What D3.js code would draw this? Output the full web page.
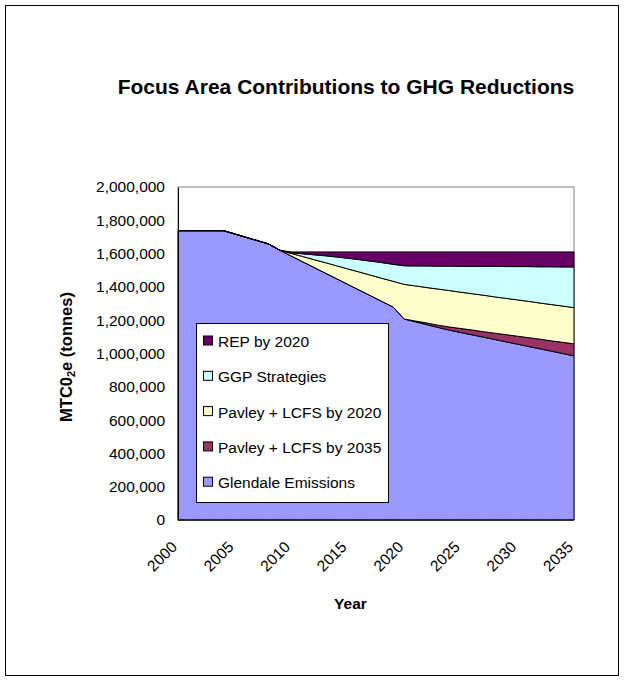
<!DOCTYPE html>
<html>
<head>
<meta charset="utf-8">
<script src="https://cdn.jsdelivr.net/npm/d3@7"></script>
<style>
  body { margin: 0; background: #fff; }
  svg text { font-family: "Liberation Sans", Arial, sans-serif; fill: #000; }
</style>
</head>
<body>
<div id="chart"></div>
<script>
// years on the category axis
var years = [2000, 2001, 2002, 2003, 2004, 2005, 2006, 2007, 2008, 2009,
             2010, 2011, 2012, 2013, 2014, 2015, 2016, 2017, 2018, 2019,
             2020, 2021, 2022, 2023, 2024, 2025, 2026, 2027, 2028, 2029,
             2030, 2031, 2032, 2033, 2034, 2035];

// series values (tonnes)
var glendale = [1738000, 1738000, 1738000, 1738000, 1738000, 1718000, 1698000, 1678000, 1658000, 1620000,
                1586000, 1552000, 1518000, 1484000, 1450000, 1416000, 1382000, 1348000, 1314000, 1280000,
                1207000, 1190000, 1173000, 1156000, 1140000, 1126000, 1112000, 1098000, 1084000, 1070000,
                1056000, 1042000, 1028000, 1014000, 1000000, 986000];
var pavley2035 = [0, 0, 0, 0, 0, 0, 0, 0, 0, 0,
                  0, 0, 0, 0, 0, 0, 0, 0, 0, 0,
                  0, 5000, 10000, 14000, 19000, 24000, 29000, 33000, 38000, 43000,
                  48000, 53000, 58000, 62000, 67000, 72000];
var pavley2020 = [0, 0, 0, 0, 0, 0, 0, 0, 0, 0,
                  15000, 31000, 46000, 62000, 77000, 92000, 108000, 123000, 138000, 154000,
                  208000, 211000, 213000, 217000, 219000, 218000, 218000, 219000, 218000, 218000,
                  218000, 218000, 217000, 218000, 218000, 217000];
var ggp = [0, 0, 0, 0, 0, 0, 0, 0, 0, 0,
           4000, 16000, 29000, 41000, 53000, 64000, 74000, 84000, 94000, 102000,
           112000, 120000, 130000, 138000, 147000, 156000, 165000, 173000, 183000, 191000,
           200000, 209000, 218000, 227000, 235000, 245000];
var rep = [0, 0, 0, 0, 0, 0, 0, 0, 0, 0,
           5000, 11000, 17000, 23000, 30000, 38000, 46000, 55000, 64000, 74000,
           83000, 84000, 84000, 85000, 85000, 86000, 86000, 87000, 87000, 88000,
           88000, 88000, 89000, 89000, 90000, 90000];

// stacking order, bottom first
var keys = ["glendale", "pavley2035", "pavley2020", "ggp", "rep"];
var seriesNames = {
    glendale: "Glendale Emissions",
    pavley2035: "Pavley + LCFS by 2035",
    pavley2020: "Pavley + LCFS by 2020",
    ggp: "GGP Strategies",
    rep: "REP by 2020"
};
var seriesColors = {
    glendale: "#9999ff",
    pavley2035: "#993366",
    pavley2020: "#ffffcc",
    ggp: "#ccffff",
    rep: "#660066"
};

var yTicks = [0, 200000, 400000, 600000, 800000, 1000000, 1200000, 1400000, 1600000, 1800000, 2000000];
var xTicks = [2000, 2005, 2010, 2015, 2020, 2025, 2030, 2035];

var W = 624, H = 681;
var plot = {left: 178, right: 574, top: 187, bottom: 520};

var data = years.map(function(yr, i) {
    return {year: yr, glendale: glendale[i], pavley2035: pavley2035[i],
            pavley2020: pavley2020[i], ggp: ggp[i], rep: rep[i]};
});

var svg = d3.select("#chart").append("svg")
    .attr("width", W)
    .attr("height", H);

// outer chart border
svg.append("rect")
    .attr("x", 5.5).attr("y", 5.5)
    .attr("width", 613).attr("height", 670)
    .attr("fill", "#fff")
    .attr("stroke", "#000")
    .attr("stroke-width", 1);

var x = d3.scaleLinear()
    .domain([years[0], years[years.length - 1]])
    .range([plot.left, plot.right]);

var y = d3.scaleLinear()
    .domain([0, 2000000])
    .range([plot.bottom, plot.top]);

// title
svg.append("text")
    .attr("x", 346)
    .attr("y", 94)
    .attr("text-anchor", "middle")
    .style("font-size", "21px")
    .style("font-weight", "bold")
    .text("Focus Area Contributions to GHG Reductions");

// plot area frame
svg.append("rect")
    .attr("x", plot.left).attr("y", plot.top)
    .attr("width", plot.right - plot.left)
    .attr("height", plot.bottom - plot.top)
    .attr("fill", "#fff")
    .attr("stroke", "#808080")
    .attr("stroke-width", 1);

var stackedData = d3.stack().keys(keys)(data);

var area = d3.area()
    .x(function(d) { return x(d.data.year); })
    .y0(function(d) { return y(d[0]); })
    .y1(function(d) { return y(d[1]); });

svg.append("g")
    .selectAll("path")
    .data(stackedData)
    .enter()
    .append("path")
    .attr("d", area)
    .attr("fill", function(d) { return seriesColors[d.key]; })
    .attr("stroke", "#000")
    .attr("stroke-width", 1)
    .attr("stroke-linejoin", "round");

// y axis
var yAxis = svg.append("g")
    .attr("transform", "translate(" + plot.left + ",0)")
    .call(d3.axisLeft(y).tickValues(yTicks).tickSize(0).tickPadding(13)
        .tickFormat(d3.format(",")));
yAxis.select(".domain").attr("stroke", "#000");
yAxis.selectAll("text")
    .style("font-size", "15.5px")
    .style("font-family", "'Liberation Sans', Arial, sans-serif");

// x axis
svg.append("line")
    .attr("x1", plot.left).attr("x2", plot.right)
    .attr("y1", plot.bottom).attr("y2", plot.bottom)
    .attr("stroke", "#000");

svg.append("g")
    .selectAll("text")
    .data(xTicks)
    .enter()
    .append("text")
    .attr("transform", function(d) { return "translate(" + x(d) + ",548) rotate(-45)"; })
    .attr("text-anchor", "end")
    .style("font-size", "15.5px")
    .text(function(d) { return d; });

// axis titles
svg.append("text")
    .attr("x", 350.5)
    .attr("y", 609)
    .attr("text-anchor", "middle")
    .style("font-size", "15.5px")
    .style("font-weight", "bold")
    .text("Year");

var yTitle = svg.append("text")
    .attr("transform", "translate(72,357) rotate(-90)")
    .attr("text-anchor", "middle")
    .style("font-size", "16.5px")
    .style("font-weight", "bold");
yTitle.append("tspan").text("MTC0");
yTitle.append("tspan").attr("dy", 3).style("font-size", "11px").text("2");
yTitle.append("tspan").attr("dy", -3).text("e (tonnes)");

// legend, top entry first
var legend = svg.append("g").attr("transform", "translate(196,323)");
legend.append("rect")
    .attr("x", 0.5).attr("y", 0.5)
    .attr("width", 192).attr("height", 179)
    .attr("fill", "#fff")
    .attr("stroke", "#000");

var legendKeys = keys.slice().reverse();
var items = legend.selectAll(".item")
    .data(legendKeys)
    .enter()
    .append("g")
    .attr("class", "item")
    .attr("transform", function(d, i) { return "translate(0," + (18.5 + i * 35.3) + ")"; });

items.append("rect")
    .attr("x", 7.5).attr("y", -5.5)
    .attr("width", 9).attr("height", 9)
    .attr("fill", function(d) { return seriesColors[d]; })
    .attr("stroke", "#000");

items.append("text")
    .attr("x", 22)
    .attr("y", 5.5)
    .style("font-size", "15.5px")
    .text(function(d) { return seriesNames[d]; });
</script>
</body>
</html>
